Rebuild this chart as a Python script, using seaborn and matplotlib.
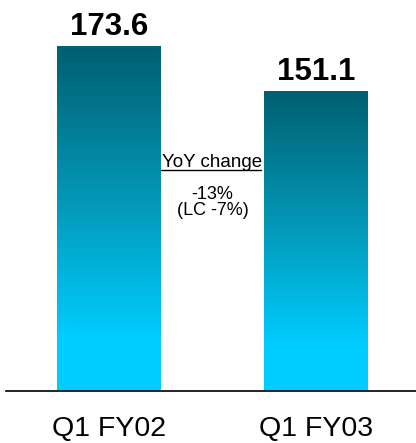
import numpy as np
import pandas as pd
import matplotlib
matplotlib.use("Agg")
import matplotlib.pyplot as plt
from matplotlib.colors import LinearSegmentedColormap
import seaborn as sns

# Quarterly values
periods = ["Q1 FY02", "Q1 FY03"]
values = [173.6, 151.1]
value_labels = ["173.6", "151.1"]
yoy_title = "YoY change"
yoy_lines = ["-13%", "(LC -7%)"]

sns.set_theme(style="white")
plt.rcParams["font.family"] = ["Liberation Sans", "DejaVu Sans"]

df = pd.DataFrame({"period": periods, "value": values})

fig = plt.figure(figsize=(4.16, 4.43), dpi=100)
ax = fig.add_axes([6 / 416, 52 / 443, 410 / 416, 391 / 443])

sns.barplot(data=df, x="period", y="value", width=0.502, ax=ax,
            color="#00ccff", saturation=1)

# Vertical teal-to-cyan gradient inside each bar
grad_cmap = LinearSegmentedColormap.from_list(
    "teal_cyan",
    [(0.0, "#00cdff"), (0.15, "#00cdff"), (0.55, "#0398b8"), (1.0, "#005f70")],
)
gradient = np.linspace(0, 1, 256).reshape(-1, 1)
for patch in ax.patches:
    x0, y0 = patch.get_x(), patch.get_y()
    w, h = patch.get_width(), patch.get_height()
    im = ax.imshow(gradient, cmap=grad_cmap, origin="lower", aspect="auto",
                   extent=(x0, x0 + w, y0, y0 + h), interpolation="bicubic",
                   zorder=patch.get_zorder())
    im.set_clip_path(patch)
    patch.set_facecolor("none")
    patch.set_edgecolor("none")

ax.set_xlim(-0.4976, 1.483)
ax.set_ylim(0, 196.8)

# Value labels above bars
for i, (v, lab) in enumerate(zip(values, value_labels)):
    ax.annotate(lab, xy=(i, v), xytext=(0, 3), textcoords="offset points",
                ha="center", va="bottom", fontsize=22.5, fontweight="bold",
                color="black")

# Year-over-year change note between the bars
mid = 0.5
ax.text(mid, 112.7, yoy_title, ha="center", va="baseline", fontsize=13.5,
        color="black")
ax.plot([0.2503, 0.7335], [111.0, 111.0], color="black", lw=1.0,
        clip_on=False)
ax.text(mid, 96.6, yoy_lines[0], ha="center", va="baseline", fontsize=13,
        color="black")
ax.text(mid, 88.6, yoy_lines[1], ha="center", va="baseline", fontsize=13,
        color="black")

# Axes styling: only the baseline remains
for side in ["left", "right", "top"]:
    ax.spines[side].set_visible(False)
ax.spines["bottom"].set_color("black")
ax.spines["bottom"].set_linewidth(1.2)
ax.set_yticks([])
ax.set_xlabel("")
ax.set_ylabel("")
ax.tick_params(axis="x", length=0, pad=18, labelsize=20.5, colors="black")
ax.set_facecolor("white")
fig.patch.set_facecolor("white")

fig.savefig("out.png", dpi=100, facecolor="white")
